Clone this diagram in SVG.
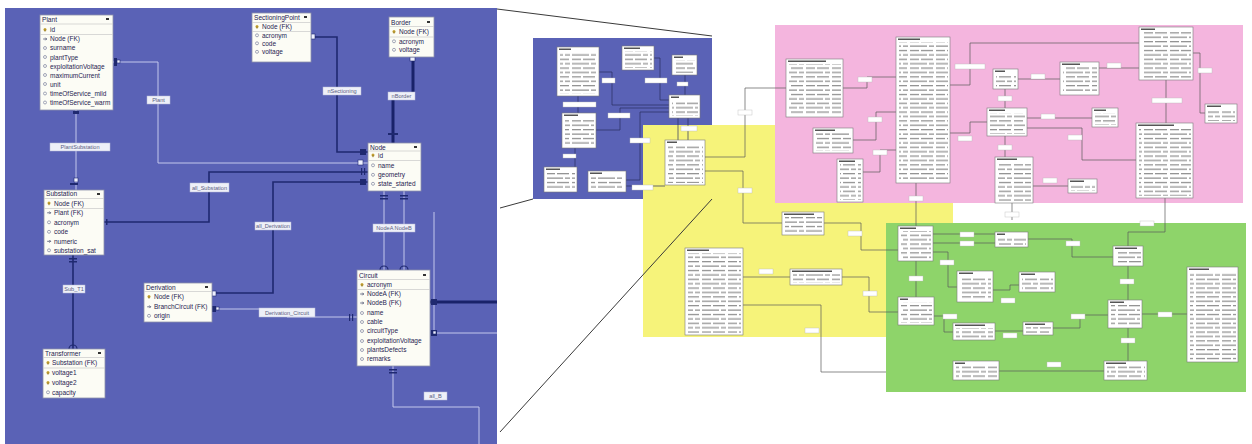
<svg xmlns="http://www.w3.org/2000/svg" xmlns:xlink="http://www.w3.org/1999/xlink" width="1252" height="444" viewBox="0 0 1252 444">
<style>
.bgb{fill:#5a62b6}
.tb{fill:#fcfcf5;stroke:#8d91aa;stroke-width:.8}
.sep{stroke:#c8c8c8;stroke-width:.7}
.tt{font-family:"Liberation Sans",Arial,sans-serif;font-size:6.5px;fill:#1f2350}
.th{font-family:"Liberation Sans",Arial,sans-serif;font-size:6.6px;fill:#1f2350}
.lb{fill:#eef0f8;stroke:#b7bbd8;stroke-width:.5}
.lt{font-family:"Liberation Sans",Arial,sans-serif;font-size:5.6px;fill:#5b6082;text-anchor:middle}
.cd{stroke:#1f2970;stroke-width:1.6;fill:none}
.ck{stroke:#19226a;stroke-width:3;fill:none}
.cp{stroke:#c3c7ec;stroke-width:1;fill:none}
.mw{fill:#eef0ff;stroke:#1f2970;stroke-width:.6}
.md{fill:#1f2970}
.rt{fill:#fff;stroke:#7a7a7a;stroke-width:.6}
.rr{fill:url(#rows)}
.rh{fill:#555}
.rl{stroke:#5a5a5a;stroke-width:.7;fill:none}
.rlb{fill:#fff;stroke:#b9b9b9;stroke-width:.4}
.il{stroke:#2a2f60;stroke-width:.7;fill:none}
.persp{stroke:#3a3a3a;stroke-width:1;fill:none}
</style>
<defs>
<pattern id="rows" patternUnits="userSpaceOnUse" width="26" height="8.8">
<rect x="0" y="1.5" width="17" height="1.2" fill="#8a8a8a"/>
<rect x="19" y="1.5" width="5" height="1.2" fill="#8a8a8a"/>
<rect x="0" y="5.9" width="9" height="1.2" fill="#8a8a8a"/>
<rect x="11" y="5.9" width="12" height="1.2" fill="#8a8a8a"/>
</pattern>
<circle id="ic" r="1.5" fill="none" stroke="#8a8fa8" stroke-width=".8"/>
<g id="key"><circle r="1.5" fill="#c3a132"/><rect x="-.4" y="0" width=".8" height="2.2" fill="#8a7020"/></g>
<g id="fk"><path d="M-1.8,0H1.6M.4,-1.3L1.7,0L.4,1.3" stroke="#4a5070" stroke-width=".8" fill="none"/></g>
</defs>

<rect width="1252" height="444" fill="#ffffff"/>

<!-- regions -->
<rect class="bgb" x="5" y="8" width="492" height="436"/>
<rect class="bgb" x="533" y="38" width="179" height="161"/>
<polygon points="643,125 775,125 775,203 953,203 953,223 886,223 886,337 643,337" fill="#f6f37a"/>
<rect x="775" y="25" width="468" height="178" fill="#f4b5de"/>
<rect x="886" y="223" width="360" height="169" fill="#8ed46a"/>

<!-- perspective lines -->
<g id="perspective">
<path class="persp" d="M497,9L712,36"/>
<path class="persp" d="M500,208L533,199"/>
<path class="persp" d="M500,432L712,199"/>
</g>

<!-- left connectors -->
<g id="connectors">
<path class="cp" d="M113,62H158V163H368"/>
<path class="cp" d="M76,110V190"/>
<path class="cd" d="M311,37H337V152H368"/>
<path class="ck" d="M413,57V96H393V143"/>
<path class="cd" d="M104,222H209V172H368"/>
<path class="cd" d="M212,293H273V182H368"/>
<path class="cp" d="M212,309H287V317H357"/>
<path class="cp" d="M384,191V270M404,191V270"/>
<path class="cd" d="M73,255V349"/>
<path class="cp" d="M393,366V407H479V444"/>
<path class="ck" d="M430,302H497"/>
<path class="cp" d="M434,212V333H497"/>
<!-- markers -->
<rect class="md" x="114" y="58" width="3" height="8"/><rect class="mw" x="117" y="60" width="3" height="3"/>
<rect class="md" x="73" y="111" width="6" height="3"/>
<rect class="md" x="70" y="183" width="8" height="2"/><rect class="mw" x="74" y="178" width="4" height="4"/>
<rect class="mw" x="311" y="34" width="4" height="5"/>
<rect class="md" x="360" y="149" width="6" height="6"/>
<rect class="mw" x="358" y="160" width="5" height="5"/>
<rect class="md" x="361" y="168" width="1.2" height="7"/><rect class="md" x="364" y="168" width="1.2" height="7"/>
<rect class="md" x="360" y="179" width="6" height="6"/>
<rect class="mw" x="410" y="57" width="5" height="4"/>
<rect class="md" x="388" y="133" width="10" height="2"/>
<rect class="md" x="380" y="195" width="8" height="1.5"/><rect class="md" x="380" y="198" width="8" height="1.5"/>
<rect class="md" x="400" y="195" width="8" height="1.5"/><rect class="md" x="400" y="198" width="8" height="1.5"/>
<path d="M380,270a4,4 0 0 1 8,0M400,270a4,4 0 0 1 8,0" stroke="#1f2970" stroke-width="1.2" fill="none"/>
<rect class="md" x="106" y="219" width="1.5" height="6"/>
<rect class="mw" x="212" y="291" width="4" height="5"/>
<rect class="md" x="212" y="306" width="4" height="6"/><rect class="mw" x="216" y="307" width="3" height="3"/>
<rect class="md" x="349" y="314" width="1.2" height="7"/><rect class="md" x="352" y="314" width="1.2" height="7"/>
<rect class="md" x="431" y="299" width="6" height="6"/>
<rect class="md" x="431" y="330" width="6" height="6"/><rect class="mw" x="433" y="331" width="3" height="3"/>
<rect class="md" x="389" y="369" width="8" height="1.5"/><rect class="md" x="389" y="372" width="8" height="1.5"/>
<rect class="md" x="69" y="258" width="8" height="1.5"/><rect class="md" x="69" y="261" width="8" height="1.5"/>
<path d="M69,349a4,4 0 0 1 8,0" stroke="#1f2970" stroke-width="1.2" fill="none"/>
<!-- labels -->
<rect class="lb" x="147" y="96" width="23" height="8"/><text class="lt" x="158.5" y="102">Plant</text>
<rect class="lb" x="50" y="143" width="60" height="8"/><text class="lt" x="80" y="149">PlantSubstation</text>
<rect class="lb" x="323" y="87" width="38" height="8"/><text class="lt" x="342" y="93">nSectioning</text>
<rect class="lb" x="388" y="92" width="27" height="8"/><text class="lt" x="401.5" y="98">nBorder</text>
<rect class="lb" x="190" y="183" width="39" height="9"/><text class="lt" x="209.5" y="189.5">all_Substation</text>
<rect class="lb" x="255" y="222" width="36" height="8"/><text class="lt" x="273" y="228">all_Derivation</text>
<rect class="lb" x="373" y="224" width="42" height="8"/><text class="lt" x="394" y="230">NodeA NodeB</text>
<rect class="lb" x="259" y="308" width="56" height="9"/><text class="lt" x="287" y="314.5">Derivation_Circuit</text>
<rect class="lb" x="63" y="285" width="22" height="8"/><text class="lt" x="74" y="291">Sub_T1</text>
<rect class="lb" x="424" y="392" width="23" height="8"/><text class="lt" x="435.5" y="398">all_B</text>
</g>

<!-- left nodes -->
<g id="Plant">
<rect class="tb" x="40" y="15" width="73" height="95"/>
<text class="th" x="42" y="21.5">Plant</text><rect x="106" y="18" width="3" height="2" fill="#333"/>
<line class="sep" x1="40" y1="24" x2="113" y2="24"/><line class="sep" x1="40" y1="34.5" x2="113" y2="34.5"/>
<use href="#key" x="45" y="29.5"/><text class="tt" x="50" y="32.2">id</text>
<use href="#fk" x="45" y="39"/><text class="tt" x="50" y="41.3">Node (FK)</text>
<use href="#ic" x="45" y="48"/><text class="tt" x="50" y="50.4">surname</text>
<use href="#ic" x="45" y="57"/><text class="tt" x="50" y="59.5">plantType</text>
<use href="#ic" x="45" y="66"/><text class="tt" x="50" y="68.6">exploitationVoltage</text>
<use href="#ic" x="45" y="75"/><text class="tt" x="50" y="77.7">maximumCurrent</text>
<use href="#ic" x="45" y="84"/><text class="tt" x="50" y="86.8">unit</text>
<use href="#ic" x="45" y="93.5"/><text class="tt" x="50" y="95.9">timeOfService_mild</text>
<use href="#ic" x="45" y="102.5"/><text class="tt" x="50" y="105">timeOfService_warm</text>
</g>

<g id="SectioningPoint">
<rect class="tb" x="252" y="13" width="59" height="49"/>
<text class="th" x="254" y="20">SectioningPoint</text><rect x="304" y="16" width="3" height="2" fill="#333"/>
<line class="sep" x1="252" y1="22.5" x2="311" y2="22.5"/><line class="sep" x1="252" y1="31.5" x2="311" y2="31.5"/>
<use href="#key" x="257" y="26.5"/><text class="tt" x="262" y="29.2">Node (FK)</text>
<use href="#ic" x="257" y="35.3"/><text class="tt" x="262" y="37.5">acronym</text>
<use href="#ic" x="257" y="43.3"/><text class="tt" x="262" y="45.5">code</text>
<use href="#ic" x="257" y="51.8"/><text class="tt" x="262" y="54">voltage</text>
</g>

<g id="Border">
<rect class="tb" x="389" y="17" width="45" height="40"/>
<text class="th" x="391" y="24.5">Border</text><rect x="427" y="21" width="3" height="2" fill="#333"/>
<line class="sep" x1="389" y1="26.5" x2="434" y2="26.5"/><line class="sep" x1="389" y1="37" x2="434" y2="37"/>
<use href="#key" x="394" y="31.5"/><text class="tt" x="399" y="34">Node (FK)</text>
<use href="#ic" x="394" y="41.3"/><text class="tt" x="399" y="43.5">acronym</text>
<use href="#ic" x="394" y="49.8"/><text class="tt" x="399" y="52">voltage</text>
</g>

<g id="Node">
<rect class="tb" x="368" y="143" width="53" height="48"/>
<text class="th" x="370" y="149.5">Node</text><rect x="414" y="146" width="3" height="2" fill="#333"/>
<line class="sep" x1="368" y1="151" x2="421" y2="151"/><line class="sep" x1="368" y1="160.5" x2="421" y2="160.5"/>
<use href="#key" x="373" y="155"/><text class="tt" x="378" y="157.5">id</text>
<use href="#ic" x="373" y="165.3"/><text class="tt" x="378" y="167.5">name</text>
<use href="#ic" x="373" y="174.8"/><text class="tt" x="378" y="177">geometry</text>
<use href="#ic" x="373" y="183.8"/><text class="tt" x="378" y="186">state_started</text>
</g>

<g id="Substation">
<rect class="tb" x="44" y="190" width="60" height="65"/>
<text class="th" x="46" y="196">Substation</text><rect x="97" y="193" width="3" height="2" fill="#333"/>
<line class="sep" x1="44" y1="198.5" x2="104" y2="198.5"/><line class="sep" x1="44" y1="208.5" x2="104" y2="208.5"/>
<use href="#key" x="49" y="203"/><text class="tt" x="54" y="205.5">Node (FK)</text>
<use href="#fk" x="49" y="212.8"/><text class="tt" x="54" y="215">Plant (FK)</text>
<use href="#ic" x="49" y="222.3"/><text class="tt" x="54" y="224.5">acronym</text>
<use href="#ic" x="49" y="231.8"/><text class="tt" x="54" y="234">code</text>
<use href="#fk" x="49" y="241.3"/><text class="tt" x="54" y="243.5">numeric</text>
<use href="#ic" x="49" y="250.3"/><text class="tt" x="54" y="252.5">substation_sat</text>
</g>

<g id="Transformer">
<rect class="tb" x="43" y="349" width="62" height="49"/>
<text class="th" x="45" y="355.5">Transformer</text><rect x="98" y="352" width="3" height="2" fill="#333"/>
<line class="sep" x1="43" y1="357.5" x2="105" y2="357.5"/><line class="sep" x1="43" y1="368" x2="105" y2="368"/>
<use href="#key" x="48" y="362.5"/><text class="tt" x="52" y="365">Substation (FK)</text>
<use href="#key" x="48" y="372.5"/><text class="tt" x="52" y="375">voltage1</text>
<use href="#key" x="48" y="382.5"/><text class="tt" x="52" y="385">voltage2</text>
<use href="#ic" x="48" y="392.3"/><text class="tt" x="52" y="394.5">capacity</text>
</g>

<g id="Derivation">
<rect class="tb" x="144" y="283" width="68" height="39"/>
<text class="th" x="146" y="289.5">Derivation</text><rect x="205" y="286" width="3" height="2" fill="#333"/>
<line class="sep" x1="144" y1="291.5" x2="212" y2="291.5"/>
<use href="#key" x="149" y="296.5"/><text class="tt" x="154" y="299">Node (FK)</text>
<use href="#fk" x="149" y="306.8"/><text class="tt" x="154" y="309">BranchCircuit (FK)</text>
<use href="#ic" x="149" y="315.8"/><text class="tt" x="154" y="318">origin</text>
</g>

<g id="Circuit">
<rect class="tb" x="357" y="270" width="73" height="96"/>
<text class="th" x="359" y="277.5">Circuit</text><rect x="423" y="274" width="3" height="2" fill="#333"/>
<line class="sep" x1="357" y1="279.5" x2="430" y2="279.5"/><line class="sep" x1="357" y1="289.5" x2="430" y2="289.5"/>
<use href="#key" x="362" y="284.5"/><text class="tt" x="367" y="287.2">acronym</text>
<use href="#fk" x="362" y="294"/><text class="tt" x="367" y="296.2">NodeA (FK)</text>
<use href="#fk" x="362" y="303"/><text class="tt" x="367" y="305.2">NodeB (FK)</text>
<use href="#ic" x="362" y="313"/><text class="tt" x="367" y="315.2">name</text>
<use href="#ic" x="362" y="322"/><text class="tt" x="367" y="324.2">cable</text>
<use href="#ic" x="362" y="331"/><text class="tt" x="367" y="333.2">circuitType</text>
<use href="#ic" x="362" y="341"/><text class="tt" x="367" y="343.2">exploitationVoltage</text>
<use href="#ic" x="362" y="350"/><text class="tt" x="367" y="352.2">plantsDefects</text>
<use href="#ic" x="362" y="359"/><text class="tt" x="367" y="361.2">remarks</text>
</g>

<!-- inset (overview copy of left panel) -->
<g id="inset-connectors">
<path class="il" d="M599,72H612V105H669"/>
<path class="il" d="M654,58H660V100H669"/>
<path class="il" d="M685,75V95"/>
<path class="il" d="M596,130H620V108H669"/>
<path class="il" d="M626,180H640V112H669"/>
<path class="il" d="M678,118V140M688,118V140"/>
<path class="il" d="M578,96V113"/>
<path class="il" d="M575,148V167"/>
<path class="il" d="M626,186H665"/>
<rect class="rlb" x="602" y="78" width="13" height="5"/>
<rect class="rlb" x="645" y="78" width="22" height="5"/>
<rect class="rlb" x="677" y="82" width="11" height="4"/>
<rect class="rlb" x="563" y="102" width="33" height="5"/>
<rect class="rlb" x="608" y="113" width="22" height="5"/>
<rect class="rlb" x="630" y="138" width="20" height="5"/>
<rect class="rlb" x="563" y="154" width="13" height="4"/>
<rect class="rlb" x="632" y="185" width="21" height="5"/>
<rect class="rlb" x="681" y="126" width="16" height="5"/>
</g>
<g id="mini-Plant"><rect class="rt" x="557" y="47" width="42" height="49"/><rect class="rh" x="559" y="48.5" width="12" height="1.5"/><rect class="rr" x="560" y="52" width="37" height="42"/></g>
<g id="mini-SectioningPoint"><rect class="rt" x="622" y="46" width="32" height="24"/><rect class="rh" x="624" y="47.5" width="16" height="1.5"/><rect class="rr" x="625" y="51" width="27" height="17"/></g>
<g id="mini-Border"><rect class="rt" x="672" y="55" width="25" height="20"/><rect class="rh" x="674" y="56.5" width="9" height="1.5"/><rect class="rr" x="675" y="60" width="20" height="13"/></g>
<g id="mini-Node"><rect class="rt" x="669" y="95" width="31" height="23"/><rect class="rh" x="671" y="96.5" width="8" height="1.5"/><rect class="rr" x="672" y="100" width="26" height="16"/></g>
<g id="mini-Substation"><rect class="rt" x="562" y="113" width="34" height="35"/><rect class="rh" x="564" y="114.5" width="14" height="1.5"/><rect class="rr" x="565" y="118" width="29" height="28"/></g>
<g id="mini-Transformer"><rect class="rt" x="544" y="167" width="33" height="25"/><rect class="rh" x="546" y="168.5" width="14" height="1.5"/><rect class="rr" x="547" y="172" width="28" height="18"/></g>
<g id="mini-Derivation"><rect class="rt" x="588" y="171" width="38" height="21"/><rect class="rh" x="590" y="172.5" width="12" height="1.5"/><rect class="rr" x="591" y="176" width="33" height="14"/></g>
<g id="mini-Circuit"><rect class="rt" x="665" y="140" width="40" height="45"/><rect class="rh" x="667" y="141.5" width="10" height="1.5"/><rect class="rr" x="668" y="145" width="35" height="38"/></g>

<!-- right side connectors -->
<g id="right-connectors">
<path class="rl" d="M705,157H745V88H786"/>
<path class="rl" d="M705,171H743V223H782"/>
<path class="rl" d="M824,223H861V250H898"/>
<path class="rl" d="M743,277H790"/>
<path class="rl" d="M842,277H869V312H898"/>
<path class="rl" d="M743,305H821V372H886"/>
<path class="rl" d="M843,88H867V77H896"/>
<path class="rl" d="M853,140H876V112H896"/>
<path class="rl" d="M863,172H880V150H896"/>
<path class="rl" d="M950,85H970V43H1139"/>
<path class="rl" d="M950,133H970V122H987"/>
<path class="rl" d="M1018,79H1060"/>
<path class="rl" d="M1005,89V108"/>
<path class="rl" d="M1099,68H1139"/>
<path class="rl" d="M1005,136V157"/>
<path class="rl" d="M1027,118H1092"/>
<path class="rl" d="M1027,128H1082V160H1136"/>
<path class="rl" d="M1166,80V123"/>
<path class="rl" d="M1193,53H1200V113H1205"/>
<path class="rl" d="M1033,186H1068"/>
<path class="rl" d="M916,183V226"/>
<path class="rl" d="M1165,198V232H1128V246"/>
<path class="rl" d="M1012,203V220"/>
<path class="rl" d="M933,234H995M933,243H995"/>
<path class="rl" d="M933,252H948V287H957"/>
<path class="rl" d="M1028,239H1072V257H1113"/>
<path class="rl" d="M1128,266V300"/>
<path class="rl" d="M1128,328V361"/>
<path class="rl" d="M1142,314H1187"/>
<path class="rl" d="M1053,328H1080V315H1108"/>
<path class="rl" d="M995,331H1023"/>
<path class="rl" d="M934,316H944V332H953"/>
<path class="rl" d="M916,261V297"/>
<path class="rl" d="M999,371H1104"/>
<path class="rl" d="M993,290H1010V285H1019"/>
<g>
<rect class="rlb" x="738" y="110" width="14" height="5"/>
<rect class="rlb" x="738" y="188" width="14" height="5"/>
<rect class="rlb" x="848" y="231" width="14" height="5"/>
<rect class="rlb" x="759" y="269" width="14" height="5"/>
<rect class="rlb" x="863" y="291" width="14" height="5"/>
<rect class="rlb" x="805" y="328" width="14" height="5"/>
<rect class="rlb" x="858" y="77" width="14" height="5"/>
<rect class="rlb" x="868" y="117" width="14" height="5"/>
<rect class="rlb" x="873" y="150" width="14" height="5"/>
<rect class="rlb" x="955" y="64" width="30" height="5"/>
<rect class="rlb" x="958" y="136" width="14" height="5"/>
<rect class="rlb" x="1031" y="74" width="14" height="5"/>
<rect class="rlb" x="998" y="96" width="14" height="5"/>
<rect class="rlb" x="1107" y="63" width="14" height="5"/>
<rect class="rlb" x="998" y="145" width="14" height="5"/>
<rect class="rlb" x="1041" y="114" width="14" height="5"/>
<rect class="rlb" x="1068" y="135" width="14" height="5"/>
<rect class="rlb" x="1152" y="98" width="30" height="5"/>
<rect class="rlb" x="1198" y="68" width="14" height="5"/>
<rect class="rlb" x="1043" y="178" width="14" height="5"/>
<rect class="rlb" x="909" y="196" width="14" height="5"/>
<rect class="rlb" x="1005" y="212" width="14" height="5"/>
<rect class="rlb" x="1140" y="221" width="14" height="5"/>
<rect class="rlb" x="940" y="260" width="14" height="5"/>
<rect class="rlb" x="960" y="232" width="14" height="5"/>
<rect class="rlb" x="960" y="241" width="14" height="5"/>
<rect class="rlb" x="1066" y="241" width="14" height="5"/>
<rect class="rlb" x="1120" y="279" width="14" height="5"/>
<rect class="rlb" x="1121" y="338" width="14" height="5"/>
<rect class="rlb" x="1158" y="312" width="14" height="5"/>
<rect class="rlb" x="1071" y="314" width="14" height="5"/>
<rect class="rlb" x="1003" y="333" width="14" height="5"/>
<rect class="rlb" x="943" y="314" width="14" height="5"/>
<rect class="rlb" x="909" y="276" width="14" height="5"/>
<rect class="rlb" x="1047" y="362" width="14" height="5"/>
<rect class="rlb" x="1001" y="298" width="14" height="5"/>
</g>
</g>

<!-- right side tables -->
<g id="P1"><rect class="rt" x="786" y="59" width="57" height="58"/><rect class="rh" x="788" y="60.5" width="38" height="1.5"/><rect class="rr" x="789" y="64" width="52" height="51"/></g>
<g id="P2"><rect class="rt" x="896" y="37" width="54" height="146"/><rect class="rh" x="898" y="38.5" width="22" height="1.5"/><rect class="rr" x="899" y="42" width="49" height="139"/></g>
<g id="P3"><rect class="rt" x="993" y="69" width="25" height="20"/><rect class="rh" x="995" y="70.5" width="10" height="1.5"/><rect class="rr" x="996" y="74" width="20" height="13"/></g>
<g id="P4"><rect class="rt" x="987" y="108" width="40" height="28"/><rect class="rh" x="989" y="109.5" width="16" height="1.5"/><rect class="rr" x="990" y="113" width="35" height="21"/></g>
<g id="P5"><rect class="rt" x="1060" y="62" width="39" height="33"/><rect class="rh" x="1062" y="63.5" width="18" height="1.5"/><rect class="rr" x="1063" y="67" width="34" height="26"/></g>
<g id="P6"><rect class="rt" x="1139" y="27" width="54" height="53"/><rect class="rh" x="1141" y="28.5" width="14" height="1.5"/><rect class="rr" x="1142" y="32" width="49" height="46"/></g>
<g id="P7"><rect class="rt" x="1092" y="108" width="26" height="19"/><rect class="rh" x="1094" y="109.5" width="12" height="1.5"/><rect class="rr" x="1095" y="113" width="21" height="12"/></g>
<g id="P8"><rect class="rt" x="1205" y="104" width="32" height="19"/><rect class="rh" x="1207" y="105.5" width="14" height="1.5"/><rect class="rr" x="1208" y="109" width="27" height="12"/></g>
<g id="P9"><rect class="rt" x="1136" y="123" width="57" height="75"/><rect class="rh" x="1138" y="124.5" width="36" height="1.5"/><rect class="rr" x="1139" y="128" width="52" height="68"/></g>
<g id="P10"><rect class="rt" x="813" y="128" width="40" height="25"/><rect class="rh" x="815" y="129.5" width="20" height="1.5"/><rect class="rr" x="816" y="133" width="35" height="18"/></g>
<g id="P11"><rect class="rt" x="837" y="159" width="26" height="43"/><rect class="rh" x="839" y="160.5" width="16" height="1.5"/><rect class="rr" x="840" y="164" width="21" height="36"/></g>
<g id="P12"><rect class="rt" x="995" y="157" width="38" height="46"/><rect class="rh" x="997" y="158.5" width="20" height="1.5"/><rect class="rr" x="998" y="162" width="33" height="39"/></g>
<g id="P13"><rect class="rt" x="1068" y="179" width="29" height="14"/><rect class="rh" x="1070" y="180.5" width="14" height="1.5"/><rect class="rr" x="1071" y="184" width="24" height="7"/></g>
<g id="Y1"><rect class="rt" x="782" y="212" width="42" height="23"/><rect class="rh" x="784" y="213.5" width="30" height="1.5"/><rect class="rr" x="785" y="217" width="37" height="16"/></g>
<g id="Y2"><rect class="rt" x="685" y="248" width="58" height="87"/><rect class="rh" x="687" y="249.5" width="22" height="1.5"/><rect class="rr" x="688" y="253" width="53" height="80"/></g>
<g id="Y3"><rect class="rt" x="790" y="269" width="52" height="16"/><rect class="rh" x="792" y="270.5" width="40" height="1.5"/><rect class="rr" x="793" y="274" width="47" height="9"/></g>
<g id="G1"><rect class="rt" x="898" y="226" width="35" height="35"/><rect class="rh" x="900" y="227.5" width="16" height="1.5"/><rect class="rr" x="901" y="231" width="30" height="28"/></g>
<g id="G2"><rect class="rt" x="995" y="232" width="33" height="15"/><rect class="rh" x="997" y="233.5" width="8" height="1.5"/><rect class="rr" x="998" y="237" width="28" height="8"/></g>
<g id="G3"><rect class="rt" x="1113" y="246" width="30" height="20"/><rect class="rh" x="1115" y="247.5" width="22" height="1.5"/><rect class="rr" x="1116" y="251" width="25" height="13"/></g>
<g id="G4"><rect class="rt" x="957" y="271" width="36" height="31"/><rect class="rh" x="959" y="272.5" width="14" height="1.5"/><rect class="rr" x="960" y="276" width="31" height="24"/></g>
<g id="G5"><rect class="rt" x="1019" y="272" width="36" height="20"/><rect class="rh" x="1021" y="273.5" width="14" height="1.5"/><rect class="rr" x="1022" y="277" width="31" height="13"/></g>
<g id="G6"><rect class="rt" x="898" y="297" width="36" height="28"/><rect class="rh" x="900" y="298.5" width="8" height="1.5"/><rect class="rr" x="901" y="302" width="31" height="21"/></g>
<g id="G7"><rect class="rt" x="953" y="323" width="42" height="17"/><rect class="rh" x="955" y="324.5" width="30" height="1.5"/><rect class="rr" x="956" y="328" width="37" height="10"/></g>
<g id="G8"><rect class="rt" x="1023" y="322" width="30" height="13"/><rect class="rh" x="1025" y="323.5" width="20" height="1.5"/><rect class="rr" x="1026" y="327" width="25" height="6"/></g>
<g id="G9"><rect class="rt" x="1108" y="300" width="34" height="28"/><rect class="rh" x="1110" y="301.5" width="14" height="1.5"/><rect class="rr" x="1111" y="305" width="29" height="21"/></g>
<g id="G10"><rect class="rt" x="1187" y="267" width="51" height="95"/><rect class="rh" x="1189" y="268.5" width="20" height="1.5"/><rect class="rr" x="1190" y="272" width="46" height="88"/></g>
<g id="G11"><rect class="rt" x="953" y="361" width="46" height="19"/><rect class="rh" x="955" y="362.5" width="10" height="1.5"/><rect class="rr" x="956" y="366" width="41" height="12"/></g>
<g id="G12"><rect class="rt" x="1104" y="361" width="43" height="19"/><rect class="rh" x="1106" y="362.5" width="20" height="1.5"/><rect class="rr" x="1107" y="366" width="38" height="12"/></g>
</svg>
